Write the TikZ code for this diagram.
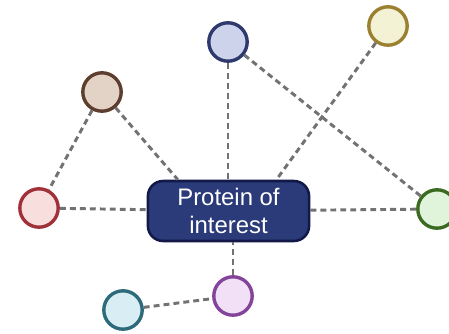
\documentclass[tikz,border=0pt]{standalone}
\usepackage{fontspec}
\setsansfont{Liberation Sans}
\usetikzlibrary{positioning}
\usetikzlibrary{calc}

\definecolor{protfill}{HTML}{2B3A78}
\definecolor{protline}{HTML}{121848}
\definecolor{linkgray}{HTML}{727272}

\begin{document}
\begin{tikzpicture}[x=0.025cm,y=-0.025cm,
    prot/.style={draw=protline,fill=protfill,line width=1.8pt,rounded corners=0.38cm,
      minimum width=4.03cm,minimum height=1.5cm,align=center,text=white,
      font=\sffamily\fontsize{17}{20}\selectfont},
    ball/.style={circle,line width=2.4pt,minimum size=0.96cm,inner sep=0pt},
    link/.style={draw=linkgray,line width=2.1pt,dash pattern=on 4.2pt off 2.9pt}]
    \useasboundingbox (0,0) rectangle (449,334);
    \node [prot] (prot) at (228.5,211) {Protein of\\interest};
    \node [ball,draw={rgb,255:red,46;green,58;blue,110},fill={rgb,255:red,205;green,211;blue,234}] (lav) at (228,42) {};
    \node [ball,draw={rgb,255:red,154;green,128;blue,48},fill={rgb,255:red,244;green,242;blue,212}] (yel) at (388,26) {};
    \node [ball,draw={rgb,255:red,92;green,61;blue,46},fill={rgb,255:red,227;green,211;blue,198}] (brn) at (102,92) {};
    \node [ball,draw={rgb,255:red,160;green,48;blue,58},fill={rgb,255:red,249;green,222;blue,222}] (red) at (39,208) {};
    \node [ball,draw={rgb,255:red,58;green,107;blue,32},fill={rgb,255:red,224;green,244;blue,219}] (grn) at (437,209) {};
    \node [ball,draw={rgb,255:red,132;green,68;blue,154},fill={rgb,255:red,242;green,224;blue,247}] (pur) at (233,296) {};
    \node [ball,draw={rgb,255:red,45;green,106;blue,122},fill={rgb,255:red,216;green,238;blue,244}] (teal) at (123,310) {};
    \draw [link] (brn)--([xshift=0.78cm]prot.north west);
    \draw [link] (brn)--(red);
    \draw [link] (red)--(prot);
    \draw [link] (lav)--(lav |- prot.north);
    \draw [link] (lav)--(grn);
    \draw [link] (yel)--([xshift=-0.85cm]prot.north east);
    \draw [link] (grn)--(prot);
    \draw [link] (pur)--(pur |- prot.south);
    \draw [link] (teal)--(pur);
  \end{tikzpicture}
\end{document}
